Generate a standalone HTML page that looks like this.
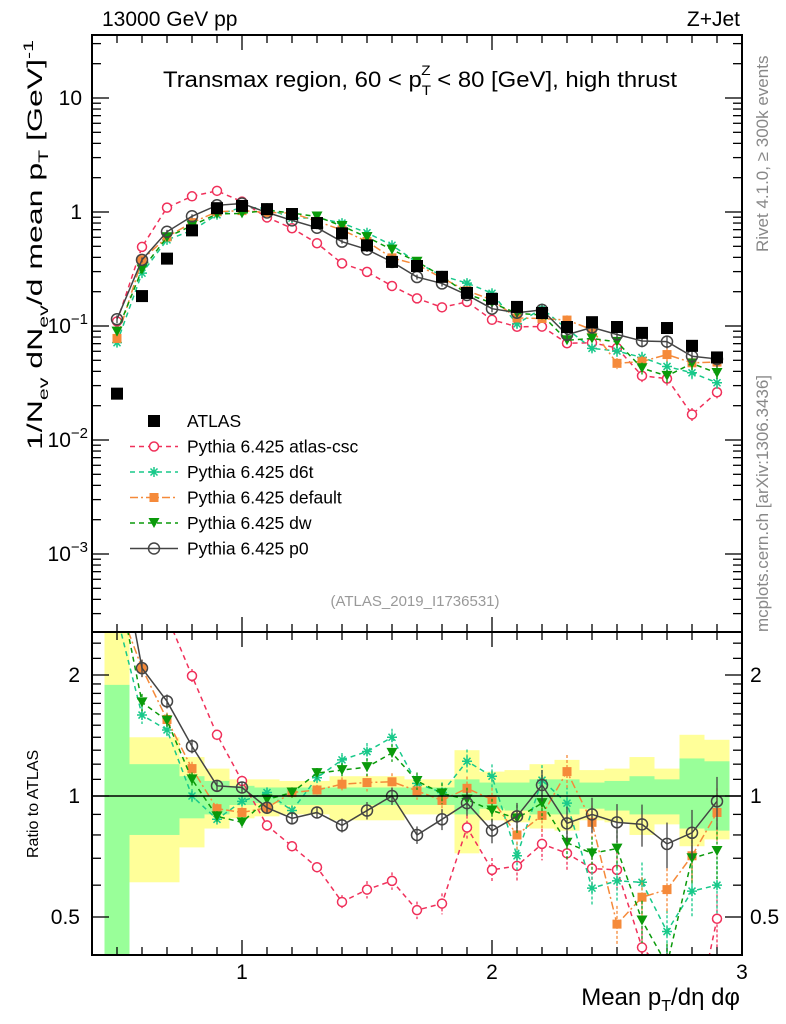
<!DOCTYPE html>
<html><head><meta charset="utf-8">
<style>
html,body{margin:0;padding:0;background:#fff;overflow:hidden;width:786px;height:1024px;}
svg{display:block;font-family:"Liberation Sans",sans-serif;}
</style></head>
<body>
<svg id="chart" width="786" height="1024" viewBox="0 0 786 1024" xmlns="http://www.w3.org/2000/svg">
<defs>
<clipPath id="cm"><rect x="92" y="35" width="650" height="597"/></clipPath>
<clipPath id="cr"><rect x="92" y="632" width="650" height="323"/></clipPath>
</defs>
<g id="bands" clip-path="url(#cr)"></g>
<g id="ticks"></g>
<g id="series-main" clip-path="url(#cm)"></g>
<g id="series-ratio" clip-path="url(#cr)"></g>
<rect x="92" y="35" width="650" height="597" fill="none" stroke="#000" stroke-width="2"/>
<rect x="92" y="632" width="650" height="323" fill="none" stroke="#000" stroke-width="2"/>
<line x1="92" x2="742" y1="796" y2="796" stroke="#000" stroke-width="1.5"/>
<text x="102" y="26" font-size="21">13000 GeV pp</text>
<text x="740" y="26" font-size="21" text-anchor="end">Z+Jet</text>
<text x="163" y="87" font-size="22" textLength="514" lengthAdjust="spacingAndGlyphs">Transmax region, 60 &lt; p<tspan font-size="14" dy="8">T</tspan><tspan font-size="14" dx="-9" dy="-20">Z</tspan><tspan dy="12"> &lt; 80 [GeV], high thrust</tspan></text>
<text transform="translate(42,450) rotate(-90)" font-size="21" textLength="410" lengthAdjust="spacingAndGlyphs">1/N<tspan font-size="14" dy="6">ev</tspan><tspan dy="-6"> dN</tspan><tspan font-size="14" dy="6">ev</tspan><tspan dy="-6">/d mean p</tspan><tspan font-size="14" dy="6">T</tspan><tspan dy="-6"> [GeV]</tspan><tspan font-size="14" dy="-9">-1</tspan></text>
<text transform="translate(38,858) rotate(-90)" font-size="16">Ratio to ATLAS</text>
<text x="740" y="1005" font-size="24" text-anchor="end">Mean p<tspan font-size="16" dy="6">T</tspan><tspan dy="-6">/dη dφ</tspan></text>
<text transform="translate(768,252) rotate(-90)" font-size="17" fill="#888">Rivet 4.1.0, ≥ 300k events</text>
<text transform="translate(768,632) rotate(-90)" font-size="17" fill="#888">mcplots.cern.ch [arXiv:1306.3436]</text>
<text x="415" y="606" font-size="15" fill="#999" text-anchor="middle">(ATLAS_2019_I1736531)</text>
<g id="legend"></g>
</svg>
<script>
const xVals=[0.5,0.6,0.7,0.8,0.9,1.0,1.1,1.2,1.3,1.4,1.5,1.6,1.7,1.8,1.9,2.0,2.1,2.2,2.3,2.4,2.5,2.6,2.7,2.8,2.9];
const atlasVals=[0.0255,0.183,0.39,0.69,1.08,1.13,1.06,0.96,0.80,0.65,0.51,0.365,0.336,0.27,0.195,0.173,0.147,0.13,0.098,0.108,0.098,0.087,0.096,0.067,0.053];
const ratioCsc=[4.3,2.7,2.8,1.99,1.42,1.09,0.845,0.75,0.665,0.545,0.585,0.615,0.52,0.54,0.835,0.655,0.67,0.76,0.72,0.66,0.655,0.42,0.36,0.25,0.495];
const ratioD6t=[2.8,1.59,1.46,1.0,0.875,0.97,1.02,0.92,1.11,1.23,1.29,1.40,1.075,1.02,1.22,1.12,0.71,1.095,0.96,0.59,0.615,0.61,0.46,0.58,0.60];
const ratioDefault=[3.05,2.08,1.55,1.17,0.93,0.91,0.935,1.02,1.035,1.07,1.08,1.085,1.03,0.975,1.045,0.98,0.80,0.895,1.15,0.86,0.48,0.56,0.585,0.71,0.91];
const ratioDw=[3.5,1.71,1.54,1.10,0.89,0.86,0.98,1.02,1.14,1.16,1.18,1.28,1.09,1.015,0.98,0.92,0.88,0.96,0.765,0.72,0.74,0.49,0.38,0.70,0.73];
const ratioP0=[4.5,2.08,1.72,1.33,1.06,1.05,0.935,0.88,0.91,0.845,0.92,1.0,0.80,0.875,0.96,0.82,0.89,1.065,0.855,0.90,0.86,0.85,0.76,0.81,0.97];
const mcErr=[0.08,0.05,0.04,0.04,0.03,0.03,0.03,0.03,0.03,0.04,0.05,0.05,0.05,0.06,0.07,0.07,0.08,0.09,0.1,0.1,0.11,0.12,0.13,0.14,0.15];
const bandYellowHi=[9,1.40,1.40,1.25,1.17,1.10,1.10,1.09,1.09,1.12,1.12,1.12,1.10,1.10,1.30,1.15,1.16,1.20,1.23,1.16,1.17,1.25,1.17,1.42,1.38];
const bandYellowLo=[0.1,0.61,0.61,0.745,0.83,0.88,0.89,0.90,0.90,0.87,0.87,0.87,0.90,0.90,0.72,0.87,0.86,0.83,0.82,0.87,0.86,0.80,0.85,0.75,0.78];
const bandGreenHi=[1.89,1.2,1.2,1.12,1.09,1.06,1.05,1.05,1.05,1.05,1.05,1.05,1.05,1.05,1.1,1.08,1.08,1.1,1.1,1.08,1.09,1.12,1.1,1.24,1.22];
const bandGreenLo=[0.1,0.8,0.8,0.88,0.9,0.95,0.96,0.95,0.95,0.95,0.95,0.95,0.95,0.95,0.9,0.93,0.92,0.9,0.9,0.93,0.92,0.9,0.9,0.83,0.82];
const xTickLabels=["1","2","3"];
const mainTickLabels=[["10",1],["1",0],["10","-1"],["10","-2"],["10","-3"]];
const ratioTickLabels=["0.5","1","2"];

const NS="http://www.w3.org/2000/svg";
const xs=v=>92+(v-0.4)*250;
const ym=v=>212-114*Math.log10(v);
const yr=r=>796-121*Math.log2(r);
function mk(tag,attrs,parent){const e=document.createElementNS(NS,tag);for(const k in attrs)e.setAttribute(k,attrs[k]);parent.appendChild(e);return e;}
const bands=document.getElementById('bands'),ticks=document.getElementById('ticks');
const gm=document.getElementById('series-main'),gr=document.getElementById('series-ratio');

xVals.forEach((x,i)=>{
  const x0=xs(x-0.05),x1=xs(x+0.05);
  const r1=mk('rect',{x:x0,y:yr(bandYellowHi[i]),width:x1-x0,height:yr(bandYellowLo[i])-yr(bandYellowHi[i]),fill:'#ffff99'},bands);
  
  
  const r2=mk('rect',{x:x0,y:yr(bandGreenHi[i]),width:x1-x0,height:yr(bandGreenLo[i])-yr(bandGreenHi[i]),fill:'#99ff99'},bands);
  
  
});

function tk(x1,y1,x2,y2){mk('line',{x1,y1,x2,y2,stroke:'#000','stroke-width':1.3},ticks);}
for(let k=5;k<=29;k++){const v=k/10,x=xs(v),L=(k%10==0)?14:7;
  tk(x,36,x,36+L);tk(x,631,x,631-L);tk(x,633,x,633+L);tk(x,954,x,954-L);}
for(let d=-4;d<=1;d++)for(let m=1;m<=9;m++){const v=m*Math.pow(10,d);const y=ym(v);if(y<36||y>631)continue;const L=m==1?16:8;tk(93,y,93+L,y);tk(741,y,741-L,y);}
[0.4,0.5,0.6,0.7,0.8,0.9,1,1.1,1.2,1.3,1.4,1.5,1.6,1.7,1.8,1.9,2,2.2,2.4].forEach(v=>{const y=yr(v);if(y<633||y>954)return;const L=(v==0.5||v==1||v==2)?16:8;tk(93,y,93+L,y);tk(741,y,741-L,y);});
xTickLabels.forEach(t=>{const e=mk('text',{x:xs(+t),y:979,'font-size':21,'text-anchor':'middle'},ticks);e.textContent=t;
  
  });
mainTickLabels.forEach(([b,p])=>{const v=Math.pow(10,+p);const e=mk('text',{x:82,y:ym(v)+7,'font-size':21,'text-anchor':'end'},ticks);
  
  
  if(b==="10"&&p!==1){e.textContent='10';const s=mk('tspan',{'font-size':15,dy:-9},e);s.textContent='−'+String(p).slice(1);e.setAttribute('x',88);}else e.textContent=b;});
ratioTickLabels.forEach(t=>{[[80,'end'],[750,'start']].forEach(([x,a])=>{const e=mk('text',{x,y:yr(+t)+7,'font-size':21,'text-anchor':a},ticks);e.textContent=t;
  
  });});

function marker(g,type,x,y,color){
  let e;
  if(type==='sq')e=mk('rect',{x:x-6,y:y-6,width:12,height:12,fill:'#000'},g);
  else if(type==='osq')e=mk('rect',{x:x-4.5,y:y-4.5,width:9,height:9,fill:color},g);
  else if(type==='circ')e=mk('circle',{cx:x,cy:y,r:4.5,fill:'#fff',stroke:color,'stroke-width':1.5},g);
  else if(type==='bigcirc')e=mk('circle',{cx:x,cy:y,r:5.5,fill:'none',stroke:color,'stroke-width':1.5},g);
  else if(type==='tri')e=mk('path',{d:`M${x-5.5},${y-5} L${x+5.5},${y-5} L${x},${y+5} Z`,fill:color},g);
  else if(type==='star')e=mk('path',{d:`M${x-5},${y} H${x+5} M${x},${y-5} V${y+5} M${x-3.5},${y-3.5} L${x+3.5},${y+3.5} M${x-3.5},${y+3.5} L${x+3.5},${y-3.5}`,stroke:color,'stroke-width':1.5},g);
  return e;
}
const series=[
 {name:'atlas-csc',label:'Pythia 6.425 atlas-csc',r:ratioCsc,color:'#f0305a',m:'circ',dash:'5,4'},
 {name:'d6t',label:'Pythia 6.425 d6t',r:ratioD6t,color:'#18c98a',m:'star',dash:'5,4'},
 {name:'default',label:'Pythia 6.425 default',r:ratioDefault,color:'#f58a3a',m:'osq',dash:'8,3,2,3'},
 {name:'dw',label:'Pythia 6.425 dw',r:ratioDw,color:'#0a9a0a',m:'tri',dash:'5,4'},
 {name:'p0',label:'Pythia 6.425 p0',r:ratioP0,color:'#444',m:'bigcirc',dash:''}
];
series.forEach(s=>{
  [[gm,true],[gr,false]].forEach(([g,main])=>{
    const vals=s.r.map((r,i)=>main?r*atlasVals[i]:r);
    const yf=main?ym:yr;
    const pts=vals.map((v,i)=>xs(xVals[i])+','+yf(v)).join(' ');
    const pl=mk('polyline',{points:pts,fill:'none',stroke:s.color,'stroke-width':1.5},g);
    if(s.dash)pl.setAttribute('stroke-dasharray',s.dash);
    
    
    vals.forEach((v,i)=>{
      const x=xs(xVals[i]);
      const el=mk('line',{x1:x,x2:x,y1:yf(v*(1+mcErr[i])),y2:yf(v*(1-mcErr[i])),stroke:s.color,'stroke-width':1.3},g);
      if(s.dash)el.setAttribute('stroke-dasharray','3,2');
      
      
      const p=marker(g,s.m,x,yf(v),s.color);
      
      
    });
  });
});
atlasVals.forEach((v,i)=>{
  const p=marker(gm,'sq',xs(xVals[i]),ym(v),'#000');
  
  
});

const lg=document.getElementById('legend');
const items=[{label:'ATLAS',m:'sq',color:'#000',dash:null,name:'atlas'}].concat(series);
items.forEach((s,i)=>{
  const y=421+i*25.5;
  const g=mk('g',{},lg);
  
  
  if(s.dash!==null){const l=mk('line',{x1:130,x2:178,y1:y,y2:y,stroke:s.color,'stroke-width':1.5},g);if(s.dash)l.setAttribute('stroke-dasharray',s.dash);}
  marker(g,s.m,154,y,s.color);
  const t=mk('text',{x:187,y:y+6,'font-size':17.5},g);t.textContent=s.label;
});
</script>
</body></html>
